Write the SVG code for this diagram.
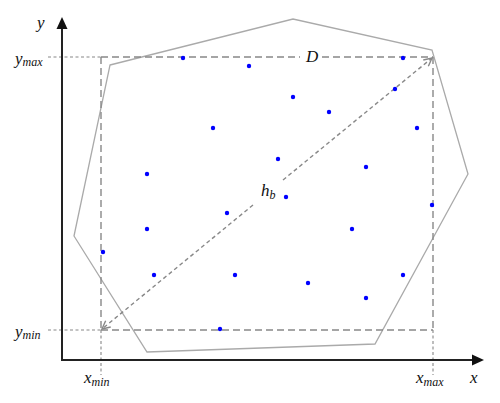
<svg xmlns="http://www.w3.org/2000/svg" width="500" height="403" viewBox="0 0 500 403">
<style>
.axis{stroke:#222;stroke-width:2;fill:none}
.box{stroke:#888;stroke-width:1.4;stroke-dasharray:7 4;fill:none}
.ext{stroke:#888;stroke-width:1.1;stroke-dasharray:3 2.5;fill:none}
.diag{stroke:#888;stroke-width:1.4;stroke-dasharray:4 3;fill:none}
.hull{stroke:#aaa;stroke-width:1.3;fill:none}
.pt{fill:#0000ff}
.lbl{font-family:"Liberation Serif","Times New Roman",serif;font-style:italic;font-size:17px;fill:#111}
.sub{font-size:12px}
</style>
<defs>
<marker id="chev" viewBox="0 0 10 10" refX="9" refY="5" markerWidth="10" markerHeight="10" markerUnits="userSpaceOnUse" orient="auto-start-reverse">
<path d="M1,1 L9,5 L1,9" fill="none" stroke="#888" stroke-width="1.4"/>
</marker>
</defs>
<g id="hull"><polygon class="hull" points="110,65 293,19 432,50 468,174 375,344 147,352 74,236"/></g>
<g id="connectors">
<line class="ext" x1="48" y1="57" x2="101" y2="57"/>
<line class="ext" x1="48" y1="330" x2="101" y2="330"/>
<line class="ext" x1="101" y1="330" x2="101" y2="375"/>
<line class="ext" x1="433" y1="330" x2="433" y2="375"/>
<line class="box" x1="101" y1="57" x2="300" y2="57"/>
<line class="box" x1="322" y1="57" x2="433" y2="57"/>
<line class="box" x1="101" y1="57" x2="101" y2="330"/>
<line class="box" x1="433" y1="57" x2="433" y2="330"/>
<line class="box" x1="101" y1="330" x2="433" y2="330"/>
<line class="diag" x1="283" y1="180" x2="432" y2="58" marker-end="url(#chev)"/>
<line class="diag" x1="253" y1="205" x2="102" y2="329" marker-end="url(#chev)"/>
</g>
<g id="axes">
<line class="axis" x1="62" y1="360" x2="62" y2="27"/>
<line class="axis" x1="61" y1="360" x2="474" y2="360"/>
<polygon points="62,17 56.5,29 67.5,29" fill="#111"/>
<polygon points="484,360 472,354.5 472,365.5" fill="#111"/>
</g>
<g id="points">
<circle class="pt" cx="183" cy="58" r="2.2"/>
<circle class="pt" cx="249" cy="66" r="2.2"/>
<circle class="pt" cx="403" cy="58" r="2.2"/>
<circle class="pt" cx="395" cy="89" r="2.2"/>
<circle class="pt" cx="293" cy="97" r="2.2"/>
<circle class="pt" cx="329" cy="112" r="2.2"/>
<circle class="pt" cx="213" cy="128" r="2.2"/>
<circle class="pt" cx="417" cy="128" r="2.2"/>
<circle class="pt" cx="278" cy="159" r="2.2"/>
<circle class="pt" cx="366" cy="167" r="2.2"/>
<circle class="pt" cx="147" cy="174" r="2.2"/>
<circle class="pt" cx="286" cy="197" r="2.2"/>
<circle class="pt" cx="432" cy="205" r="2.2"/>
<circle class="pt" cx="227" cy="213" r="2.2"/>
<circle class="pt" cx="147" cy="229" r="2.2"/>
<circle class="pt" cx="352" cy="229" r="2.2"/>
<circle class="pt" cx="103" cy="252" r="2.2"/>
<circle class="pt" cx="154" cy="275" r="2.2"/>
<circle class="pt" cx="235" cy="275" r="2.2"/>
<circle class="pt" cx="403" cy="275" r="2.2"/>
<circle class="pt" cx="308" cy="283" r="2.2"/>
<circle class="pt" cx="366" cy="298" r="2.2"/>
<circle class="pt" cx="220" cy="329" r="2.2"/>
</g>
<g id="labels">
<text class="lbl" x="37" y="28">y</text>
<text class="lbl" x="470" y="383">x</text>
<text class="lbl" x="306" y="62">D</text>
<text class="lbl" x="261" y="196">h<tspan class="sub" dy="3">b</tspan></text>
<text class="lbl" x="15" y="64">y<tspan class="sub" dy="2">max</tspan></text>
<text class="lbl" x="15" y="337">y<tspan class="sub" dy="2">min</tspan></text>
<text class="lbl" x="84" y="383">x<tspan class="sub" dy="3">min</tspan></text>
<text class="lbl" x="416" y="383">x<tspan class="sub" dy="3">max</tspan></text>
</g>
</svg>
